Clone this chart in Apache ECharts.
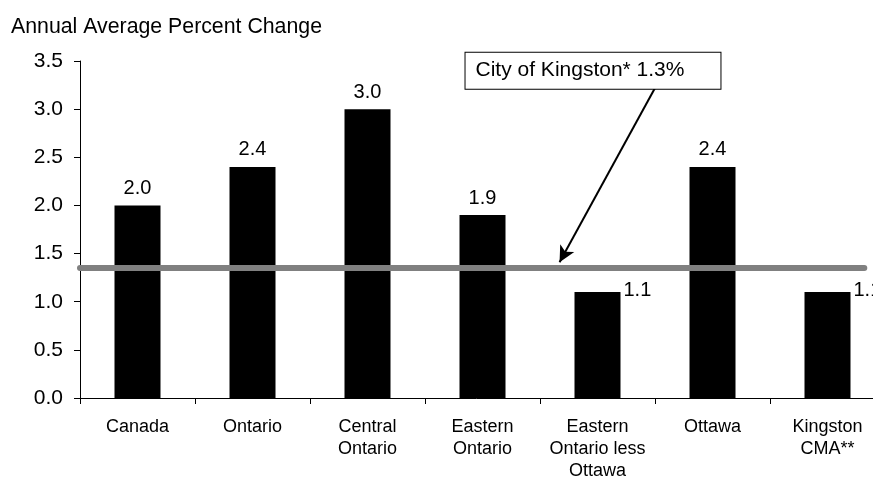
<!DOCTYPE html>
<html>
<head>
<meta charset="utf-8">
<script src="https://cdn.jsdelivr.net/npm/echarts@6/dist/echarts.min.js"></script>
<style>
    html, body { margin: 0; padding: 0; background: #fff; }
    #chart { width: 873px; height: 477px; }
</style>
</head>
<body>
<div id="chart"></div>
<script>
    // 数据
    var categories = ['Canada', 'Ontario', 'Central\nOntario', 'Eastern\nOntario',
        'Eastern\nOntario less\nOttawa', 'Ottawa', 'Kingston\nCMA**'];
    var values = [2.0, 2.4, 3.0, 1.9, 1.1, 2.4, 1.1];
    var yTicks = [0, 0.5, 1.0, 1.5, 2.0, 2.5, 3.0, 3.5];
    var cityValue = 1.35;
    var cityLabel = 'City of Kingston* 1.3%';

    var font = '"Liberation Sans", Arial, sans-serif';

    var barData = [];
    for (var i = 0; i < values.length; i++) {
        var v = values[i];
        var item = { value: v };
        // bars under the Kingston line get their label at the side
        if (v < cityValue) {
            item.label = {
                position: ['100%', 0],
                align: 'left',
                verticalAlign: 'middle',
                offset: [3, -2]
            };
        }
        barData.push(item);
    }

    var chart = echarts.init(document.getElementById('chart'));
    var option = {
        animation: false,
        backgroundColor: '#fff',
        title: {
            text: 'Annual Average Percent Change',
            left: 6,
            top: 12,
            textStyle: { fontFamily: font, fontSize: 21.3, fontWeight: 'normal', color: '#000' }
        },
        grid: {
            // the plot runs past the right edge of the picture
            outerBoundsMode: 'none',
            left: 80,
            top: 61,
            width: 805,
            bottom: 79
        },
        xAxis: [{
            type: 'category',
            data: categories,
            axisLine: { lineStyle: { color: '#000', width: 1 } },
            axisTick: { show: true, length: 6, alignWithLabel: false, lineStyle: { color: '#000' } },
            axisLabel: {
                interval: 0,
                margin: 18,
                color: '#000',
                fontFamily: font,
                fontSize: 18,
                lineHeight: 22
            },
            splitLine: { show: false }
        }, {
            // hidden axis for the reference line and arrow
            type: 'value',
            min: 0,
            max: 7,
            show: false
        }],
        yAxis: {
            type: 'value',
            min: yTicks[0],
            max: yTicks[yTicks.length - 1],
            interval: 0.5,
            axisLine: { show: true, lineStyle: { color: '#000', width: 1 } },
            axisTick: { show: true, length: 6, lineStyle: { color: '#000' } },
            axisLabel: {
                margin: 17,
                color: '#000',
                fontFamily: font,
                fontSize: 21,
                formatter: function (val) { return val.toFixed(1); }
            },
            splitLine: { show: false }
        },
        series: [{
            type: 'bar',
            data: barData,
            barWidth: 46,
            itemStyle: { color: '#000' },
            label: {
                show: true,
                position: 'top',
                distance: 7,
                color: '#000',
                fontFamily: font,
                fontSize: 20,
                formatter: function (p) { return p.value.toFixed(1); }
            },
            z: 2
        }, {
            type: 'line',
            xAxisIndex: 1,
            data: [[0, cityValue], [6.82, cityValue]],
            symbol: 'none',
            clip: false,
            lineStyle: { color: '#808080', width: 6, cap: 'round' },
            z: 3,
            markLine: {
                silent: true,
                symbol: ['none', 'arrow'],
                symbolSize: [12, 16],
                label: { show: false },
                lineStyle: { color: '#000', width: 2, type: 'solid' },
                data: [[{ coord: [5.0, 3.22] }, { coord: [4.17, 1.41] }]]
            },
            markPoint: {
                silent: true,
                symbol: 'rect',
                symbolSize: 1,
                itemStyle: { color: 'rgba(0,0,0,0)' },
                label: {
                    show: true,
                    position: 'right',
                    distance: 0,
                    formatter: cityLabel,
                    color: '#000',
                    fontFamily: font,
                    fontSize: 21,
                    lineHeight: 22,
                    backgroundColor: '#fff',
                    borderColor: '#000',
                    borderWidth: 1,
                    padding: [7, 36, 7, 10]
                },
                data: [{ coord: [3.348, 3.40] }]
            }
        }]
    };
    chart.setOption(option, true);
    window.addEventListener('resize', function () {
        chart.resize();
    });
</script>
</body>
</html>
